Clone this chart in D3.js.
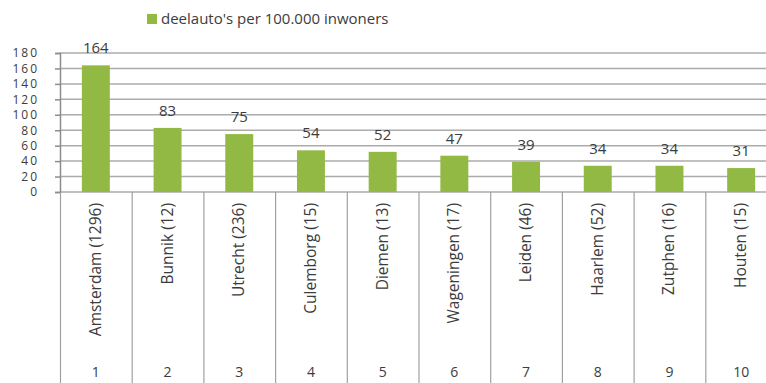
<!DOCTYPE html>
<html>
<head>
<meta charset="utf-8">
<script src="https://cdn.jsdelivr.net/npm/d3@7"></script>
<style>
  body { margin: 0; background: #fff; }
  svg { display: block; font-family: "Open Sans", sans-serif; }
  text { fill: #3c3c3c; }
</style>
</head>
<body>
<script>
const W = 766, H = 383;
const cities = ["Amsterdam (1296)", "Bunnik (12)", "Utrecht (236)", "Culemborg (15)", "Diemen (13)",
  "Wageningen (17)", "Leiden (46)", "Haarlem (52)", "Zutphen (16)", "Houten (15)"];
const ranks = ["1", "2", "3", "4", "5", "6", "7", "8", "9", "10"];
const values = [164, 83, 75, 54, 52, 47, 39, 34, 34, 31];
const yTicks = [0, 20, 40, 60, 80, 100, 120, 140, 160, 180];
const seriesName = "deelauto's per 100.000 inwoners";

const GREEN = "#93b945", GRID = "#ababab";
const LEFT = 60, RIGHT = 777, TOP = 53, BASE = 192;

const svg = d3.select("body").append("svg").attr("width", W).attr("height", H);

const y = d3.scaleLinear().domain([0, 180]).range([BASE, TOP]);
const slots = d3.scaleBand().domain(ranks).range([LEFT, RIGHT]);
const x = d3.scaleBand().domain(ranks).range([LEFT, RIGHT]).paddingInner(0.61).paddingOuter(0.305);

// gridlines
svg.append("g").selectAll("line").data(yTicks).enter().append("line")
  .attr("x1", LEFT).attr("x2", W)
  .attr("y1", d => y(d)).attr("y2", d => y(d))
  .attr("stroke", GRID).attr("stroke-width", 1.5);

// y axis
const yAxis = svg.append("g").attr("transform", "translate(" + LEFT + ",0)")
  .call(d3.axisLeft(y).tickValues(yTicks).tickSize(5).tickPadding(16));
yAxis.select(".domain").attr("stroke", "#8c8c8c").attr("stroke-width", 1.5);
yAxis.selectAll(".tick line").attr("stroke", "#8c8c8c").attr("stroke-width", 1.5);
yAxis.selectAll(".tick text").attr("font-size", 12).attr("letter-spacing", 2)
  .attr("font-family", "Open Sans").attr("fill", "#3c3c3c");

// category separators (down to bottom)
svg.append("g").selectAll("line").data(ranks).enter().append("line")
  .attr("x1", d => slots(d) + 0.5).attr("x2", d => slots(d) + 0.5)
  .attr("y1", BASE).attr("y2", H)
  .attr("stroke", "#a0a0a0").attr("stroke-width", 1.2);

// bars
svg.append("g").selectAll("rect").data(values).enter().append("rect")
  .attr("x", (d, i) => x(ranks[i]))
  .attr("width", x.bandwidth())
  .attr("y", d => y(d))
  .attr("height", d => BASE - y(d))
  .attr("fill", GREEN);

// value labels
svg.append("g").selectAll("text").data(values).enter().append("text")
  .attr("x", (d, i) => x(ranks[i]) + x.bandwidth() / 2)
  .attr("y", d => y(d) - 12)
  .attr("text-anchor", "middle")
  .attr("font-size", 15)
  .text(d => d);

// rotated city labels
svg.append("g").selectAll("text").data(cities).enter().append("text")
  .attr("transform", (d, i) => "translate(" + (slots(ranks[i]) + slots.bandwidth() / 2 + 5) + ",203) rotate(-90)")
  .attr("text-anchor", "end")
  .attr("font-size", 15.5)
  .text(d => d);

// rank numbers
svg.append("g").selectAll("text").data(ranks).enter().append("text")
  .attr("x", d => slots(d) + slots.bandwidth() / 2)
  .attr("y", 377)
  .attr("text-anchor", "middle")
  .attr("font-size", 14)
  .text(d => d);

// legend
const legend = svg.append("g").attr("transform", "translate(147,14)");
legend.append("rect").attr("width", 10).attr("height", 10).attr("fill", GREEN);
legend.append("text").attr("x", 14).attr("y", 10).attr("font-size", 15).text(seriesName);
</script>
</body>
</html>
